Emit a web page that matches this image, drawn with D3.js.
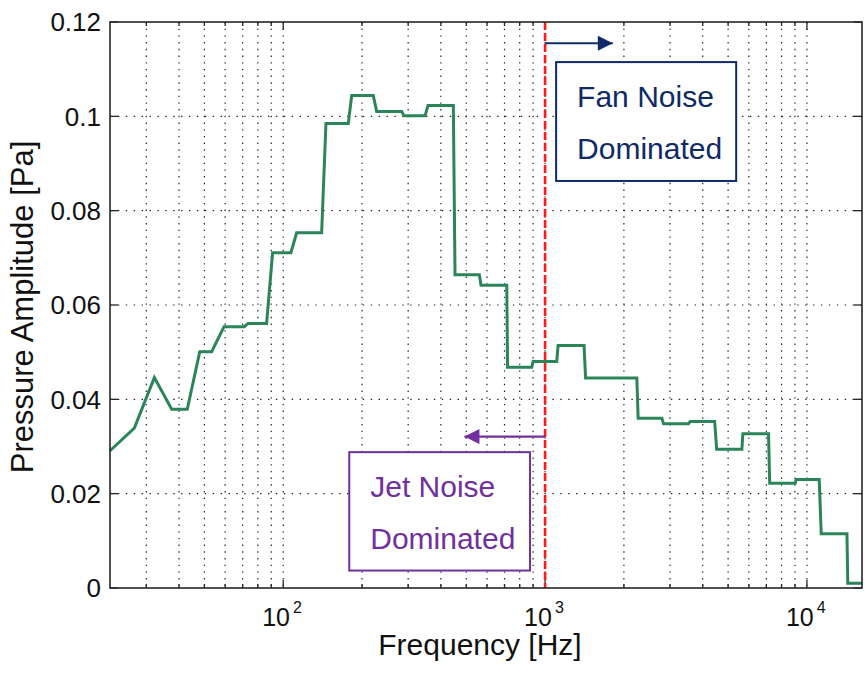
<!DOCTYPE html>
<html>
<head>
<meta charset="utf-8">
<script src="https://cdn.jsdelivr.net/npm/d3@7"></script>
<style>
  body { margin: 0; background: #fff; }
  text { font-family: "Liberation Sans", Arial, sans-serif; }
</style>
</head>
<body>
<svg id="chart" width="865" height="677"></svg>
<script>
// spectrum (frequency in Hz, amplitude in Pa)
const freqHz = [
  21.8, 27.0, 32.2, 37.5, 43.0, 48.0, 53.3, 59.4, 71.0, 73.5,
  86.4, 91.1, 107.0, 112.5, 140.2, 145.6, 177.2, 182.6, 220.8, 227.5,
  283.5, 289.3, 347.9, 357.2, 446.3, 453.0, 561.0, 569.4, 714.0, 719.0,
  889.8, 900, 1108, 1121, 1409, 1428, 2241, 2267, 2792, 2837,
  3528, 3582, 4443, 4522, 5644, 5694, 7134, 7208, 9022, 9102,
  11140, 11340, 14220, 14320, 16230
]
const amplitudePa = [
  0.0291, 0.0339, 0.0446, 0.0379, 0.0379, 0.0501, 0.0501, 0.0554, 0.0554, 0.0561,
  0.0561, 0.0711, 0.0711, 0.0753, 0.0753, 0.0985, 0.0985, 0.1044, 0.1044, 0.1010,
  0.1010, 0.1001, 0.1001, 0.1023, 0.1023, 0.0664, 0.0664, 0.0642, 0.0642, 0.0468,
  0.0468, 0.0480, 0.0480, 0.0514, 0.0514, 0.0445, 0.0445, 0.0360, 0.0360, 0.0348,
  0.0348, 0.0353, 0.0353, 0.0294, 0.0294, 0.0327, 0.0327, 0.0222, 0.0222, 0.0230,
  0.0230, 0.0115, 0.0115, 0.0010, 0.0010
]
const yTicks = [0, 0.02, 0.04, 0.06, 0.08, 0.1, 0.12]
const yTickLabels = ['0', '0.02', '0.04', '0.06', '0.08', '0.1', '0.12']
const splitFreq = 1000

// annotations (data coordinates)
const fanArrow = { from: 1000, to: 1814, y: 0.1155 }
const jetArrow = { from: 1000, to: 492, y: 0.0321 }
const fanBox = { x0: 1102, x1: 5368, y0: 0.1115, y1: 0.0863, lines: ['Fan Noise', 'Dominated'], color: '#0f2a66' }
const jetBox = { x0: 178.7, x1: 876, y0: 0.0288, y1: 0.0037, lines: ['Jet Noise', 'Dominated'], color: '#7030a0' }

const margin = { top: 22, right: 3, bottom: 89, left: 110 }
const svg = d3.select('#chart')
const width = +svg.attr('width') - margin.left - margin.right
const height = +svg.attr('height') - margin.top - margin.bottom

const g = svg.append('g').attr('transform', `translate(${margin.left},${margin.top})`)

const x = d3.scaleLog().domain([21.8, 16230]).range([0, width])
const y = d3.scaleLinear().domain([0, 0.12]).range([height, 0])

const xTickVals = x.ticks().filter(t => t > x.domain()[0] && t < x.domain()[1])
const isMajor = t => Math.abs(Math.log10(t) - Math.round(Math.log10(t))) < 1e-9

// dotted grid
g.append('g')
  .selectAll('line')
  .data(xTickVals)
  .enter()
  .append('line')
  .attr('x1', d => x(d)).attr('x2', d => x(d))
  .attr('y1', 0).attr('y2', height)
  .attr('stroke', '#222')
  .attr('stroke-width', 1.2)
  .attr('stroke-dasharray', '1.4,5.3')

g.append('g')
  .selectAll('line')
  .data(yTicks.slice(1, -1))
  .enter()
  .append('line')
  .attr('x1', 0).attr('x2', width)
  .attr('y1', d => y(d)).attr('y2', d => y(d))
  .attr('stroke', '#222')
  .attr('stroke-width', 1.2)
  .attr('stroke-dasharray', '1.4,6.5')

// inward ticks on all four sides
const tickG = g.append('g').attr('stroke', '#262626').attr('stroke-width', 1.3)
xTickVals.forEach(t => {
  const len = isMajor(t) ? 8 : 4
  tickG.append('line').attr('x1', x(t)).attr('x2', x(t)).attr('y1', height).attr('y2', height - len)
  tickG.append('line').attr('x1', x(t)).attr('x2', x(t)).attr('y1', 0).attr('y2', len)
})
yTicks.forEach(t => {
  tickG.append('line').attr('x1', 0).attr('x2', 8).attr('y1', y(t)).attr('y2', y(t))
  tickG.append('line').attr('x1', width).attr('x2', width - 8).attr('y1', y(t)).attr('y2', y(t))
})

// spectrum line
const line = d3.line()
  .x((d, i) => x(freqHz[i]))
  .y(d => y(d))

g.append('path')
  .datum(amplitudePa)
  .attr('d', line)
  .attr('fill', 'none')
  .attr('stroke', '#2b8559')
  .attr('stroke-width', 3)
  .attr('stroke-linejoin', 'miter')

// split line at 1 kHz
g.append('line')
  .attr('x1', x(splitFreq)).attr('x2', x(splitFreq))
  .attr('y1', 0).attr('y2', height)
  .attr('stroke', '#ff1a1a')
  .attr('stroke-width', 2.6)
  .attr('stroke-dasharray', '8,3')

// arrows
const defs = svg.append('defs')
;[['fanHead', fanBox.color], ['jetHead', jetBox.color]].forEach(([id, c]) => {
  defs.append('marker')
    .attr('id', id)
    .attr('viewBox', '0 0 10 10')
    .attr('refX', 10).attr('refY', 5)
    .attr('markerWidth', 16).attr('markerHeight', 15)
    .attr('markerUnits', 'userSpaceOnUse')
    .attr('orient', 'auto')
    .append('path')
    .attr('d', 'M0,0 L10,5 L0,10 Z')
    .attr('fill', c)
})

g.append('line')
  .attr('x1', x(fanArrow.from)).attr('x2', x(fanArrow.to))
  .attr('y1', y(fanArrow.y)).attr('y2', y(fanArrow.y))
  .attr('stroke', fanBox.color).attr('stroke-width', 2.2)
  .attr('marker-end', 'url(#fanHead)')

g.append('line')
  .attr('x1', x(jetArrow.from)).attr('x2', x(jetArrow.to))
  .attr('y1', y(jetArrow.y)).attr('y2', y(jetArrow.y))
  .attr('stroke', jetBox.color).attr('stroke-width', 2.2)
  .attr('marker-end', 'url(#jetHead)')

// text boxes
;[fanBox, jetBox].forEach(b => {
  const bx = x(b.x0), by = y(b.y0)
  g.append('rect')
    .attr('x', bx).attr('y', by)
    .attr('width', x(b.x1) - bx)
    .attr('height', y(b.y1) - by)
    .attr('fill', '#fff')
    .attr('stroke', b.color)
    .attr('stroke-width', 2)
  b.lines.forEach((t, i) => {
    g.append('text')
      .attr('x', bx + 21)
      .attr('y', by + 45 + i * 52)
      .attr('fill', b.color)
      .style('font-size', '30px')
      .text(t)
  })
})

// axes box
g.append('rect')
  .attr('width', width).attr('height', height)
  .attr('fill', 'none')
  .attr('stroke', '#262626')
  .attr('stroke-width', 1.6)

// y tick labels
g.append('g')
  .selectAll('text')
  .data(yTicks)
  .enter()
  .append('text')
  .attr('x', -9)
  .attr('y', d => y(d))
  .attr('dy', '0.36em')
  .attr('text-anchor', 'end')
  .style('font-size', '26px')
  .attr('fill', '#111')
  .text((d, i) => yTickLabels[i])

// x tick labels: 10^n
const xLab = g.append('g')
xTickVals.filter(isMajor).forEach(t => {
  const lt = xLab.append('text')
    .attr('x', x(t) - 21)
    .attr('y', height + 38)
    .style('font-size', '25px')
    .attr('fill', '#111')
  lt.append('tspan').text('10')
  lt.append('tspan')
    .attr('dy', -13)
    .attr('dx', 3)
    .style('font-size', '16px')
    .text(Math.round(Math.log10(t)))
})

// axis titles
svg.append('text')
  .attr('x', 480)
  .attr('y', 655)
  .attr('text-anchor', 'middle')
  .style('font-size', '30px')
  .attr('fill', '#111')
  .text('Frequency [Hz]')

svg.append('text')
  .attr('transform', `translate(33,307) rotate(-90)`)
  .attr('text-anchor', 'middle')
  .style('font-size', '31px')
  .attr('fill', '#111')
  .text('Pressure Amplitude [Pa]')
</script>
</body>
</html>
